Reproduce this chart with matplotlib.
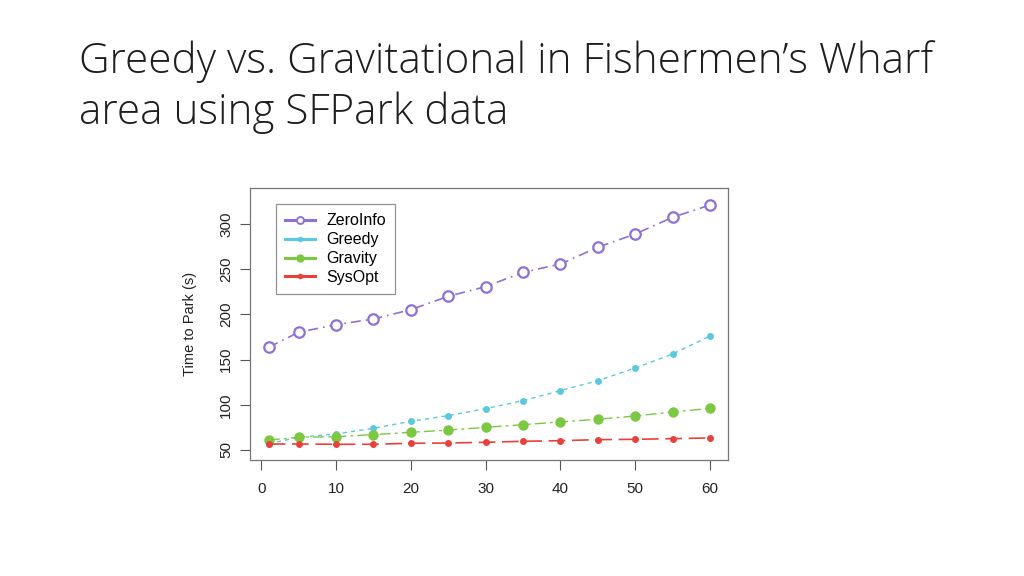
import matplotlib
matplotlib.use("Agg")
import matplotlib.pyplot as plt
from matplotlib.lines import Line2D

x = [1, 5, 10, 15, 20, 25, 30, 35, 40, 45, 50, 55, 60]
zeroinfo = [163.6, 180.2, 188.6, 194.9, 205.2, 220.0, 230.7, 246.5, 255.7, 274.2, 288.9, 307.4, 321.0]
greedy = [57.0, 64.0, 67.7, 74.0, 81.7, 88.0, 95.7, 104.6, 115.6, 126.7, 140.7, 156.2, 176.1]
gravity = [61.0, 64.0, 64.7, 67.0, 69.5, 72.0, 75.0, 78.0, 81.0, 84.0, 87.6, 92.0, 96.0]
sysopt = [56.6, 56.6, 56.3, 56.3, 57.4, 57.7, 58.5, 59.6, 60.3, 61.4, 61.8, 62.5, 63.3]
labels = ["ZeroInfo", "Greedy", "Gravity", "SysOpt"]
colors = ["#8E70D6", "#5BC8E0", "#7CC842", "#E8403A"]
xticks = [0, 10, 20, 30, 40, 50, 60]
yticks = [50, 100, 150, 200, 250, 300]
title_lines = ["Greedy vs. Gravitational in Fishermen\u2019s Wharf", "area using SFPark data"]

fig = plt.figure(figsize=(10.24, 5.76), dpi=100)
fig.patch.set_facecolor("white")

for i, line in enumerate(title_lines):
    fig.text(79/1024, 1-(73 + 51*i)/576, line, fontsize=30.4, color="#1e1e1e",
             family=["Open Sans", "DejaVu Sans"], va="baseline", ha="left", fontweight="light")

ax = fig.add_axes([250/1024, 1-460/576, 478/1024, 272/576])
ax.plot(x, zeroinfo, color=colors[0], linestyle=(0, (6, 3, 1, 3)), linewidth=1.2, marker="o",
        markersize=7.5, markerfacecolor="white", markeredgewidth=1.6)
ax.plot(x, greedy, color=colors[1], linestyle=(0, (3, 3)), linewidth=1.0, marker="o",
        markersize=5, markeredgewidth=0)
ax.plot(x, gravity, color=colors[2], linestyle=(0, (8, 3, 2, 3)), linewidth=1.0, marker="o",
        markersize=7.5, markeredgewidth=0)
ax.plot(x, sysopt, color=colors[3], linestyle=(0, (10, 4)), linewidth=1.2, marker="o",
        markersize=5, markeredgewidth=0)

ax.set_xlim(-1.5, 62.4)
ax.set_ylim(38.9, 339.8)
ax.set_xticks(xticks)
ax.set_yticks(yticks)
ax.set_xticklabels([str(v) for v in xticks], fontsize=11, family="Liberation Sans", color="#222222")
ax.set_yticklabels([str(v) for v in yticks], fontsize=11, family="Liberation Sans", color="#222222",
                   rotation=90, va="center")
ax.tick_params(axis="both", direction="out", length=7, width=0.8, color="#555555")
ax.tick_params(axis="x", pad=9)
ax.tick_params(axis="y", pad=5)
for s in ax.spines.values():
    s.set_color("#777777")
    s.set_linewidth(0.9)
ax.set_ylabel("Time to Park (s)", fontsize=10.5, family="Liberation Sans", color="#222222", labelpad=16)

handles = [
    Line2D([], [], color=colors[0], linewidth=2.2, marker="o", markersize=5,
           markerfacecolor="white", markeredgewidth=1.4),
    Line2D([], [], color=colors[1], linewidth=2.2, marker="o", markersize=4, markeredgewidth=0),
    Line2D([], [], color=colors[2], linewidth=2.2, marker="o", markersize=6, markeredgewidth=0),
    Line2D([], [], color=colors[3], linewidth=2.2, marker="o", markersize=4, markeredgewidth=0),
]
leg = ax.legend(handles, labels, loc="upper left", bbox_to_anchor=(0.055, 0.94),
                prop={"family": "Liberation Sans", "size": 11.5}, frameon=True, fancybox=False,
                handlelength=1.9, borderpad=0.55, labelspacing=0.25, handletextpad=0.7,
                borderaxespad=0)
leg.get_frame().set_edgecolor("#777777")
leg.get_frame().set_linewidth(0.9)

fig.savefig("out.png", dpi=100)
